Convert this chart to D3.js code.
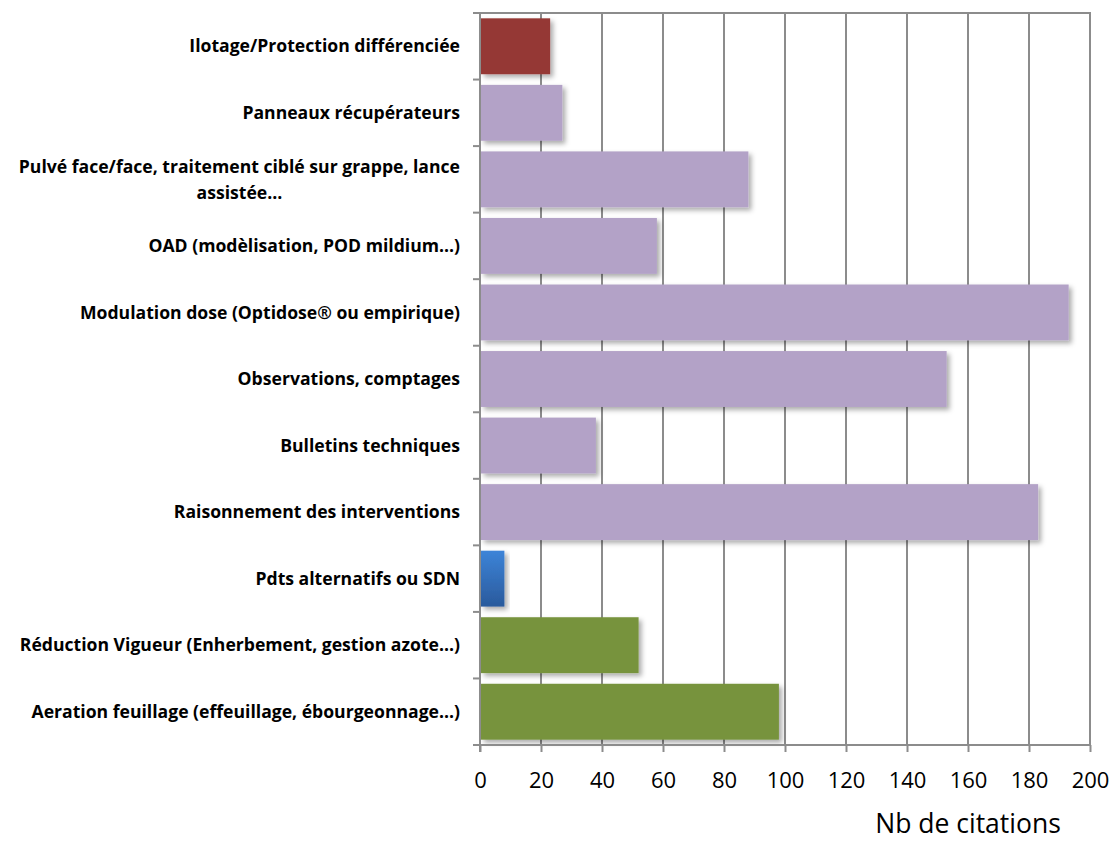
<!DOCTYPE html>
<html><head><meta charset="utf-8">
<script src="https://cdn.jsdelivr.net/npm/d3@7"></script>
<style>body{margin:0;background:#fff}</style>
</head><body>
<svg id="chart" width="1112" height="841"></svg>
<script>
const categories = [
  "Ilotage/Protection différenciée",
  "Panneaux récupérateurs",
  "Pulvé face/face, traitement ciblé sur grappe, lance|assistée…",
  "OAD (modèlisation, POD mildium…)",
  "Modulation dose (Optidose® ou empirique)",
  "Observations, comptages",
  "Bulletins techniques",
  "Raisonnement des interventions",
  "Pdts alternatifs ou SDN",
  "Réduction Vigueur (Enherbement, gestion azote…)",
  "Aeration feuillage (effeuillage, ébourgeonnage…)"
];
const values = [23, 27, 88, 58, 193, 153, 38, 183, 8, 52, 98];
const groups = ["red", "purple", "purple", "purple", "purple", "purple", "purple", "purple", "blue", "green", "green"];
const xTicks = [0, 20, 40, 60, 80, 100, 120, 140, 160, 180, 200];
const axisTitle = "Nb de citations";

(function(){
const colors = {red: "#953735", purple: "#B3A2C7", green: "#77933C", blue: "url(#blueGrad)"};

const svg = d3.select("#chart");
const defs = svg.append("defs");
const f = defs.append("filter").attr("id","shadow").attr("x","-10%").attr("y","-20%").attr("width","130%").attr("height","160%");
f.append("feDropShadow").attr("dx",3).attr("dy",3).attr("stdDeviation",2.5).attr("flood-color","#000").attr("flood-opacity",0.33);
const g = defs.append("linearGradient").attr("id","blueGrad").attr("x1",0).attr("y1",0).attr("x2",0).attr("y2",1);
g.append("stop").attr("offset","0%").attr("stop-color","#3D84D8");
g.append("stop").attr("offset","100%").attr("stop-color","#2A5A9C");

const pL = 480, pR = 1090, pT = 13, pB = 745;
const x = d3.scaleLinear().domain([0, 200]).range([pL, pR]);
const y = d3.scaleBand().domain(categories).range([pT, pB]).paddingInner(0.16).paddingOuter(0.08);
const step = y.step();

svg.append("g").selectAll("line").data(xTicks.filter(d => d > 0)).join("line")
  .attr("x1", d => x(d)).attr("x2", d => x(d)).attr("y1", pT).attr("y2", pB)
  .attr("stroke", "#8c8c8c").attr("stroke-width", 2);
svg.append("line").attr("x1", pL - 7).attr("x2", pR + 1).attr("y1", pT).attr("y2", pT)
  .attr("stroke", "#8c8c8c").attr("stroke-width", 2);

svg.append("g").selectAll("rect").data(categories).join("rect")
  .attr("x", x(0) + 1)
  .attr("y", d => y(d))
  .attr("width", (d, i) => x(values[i]) - x(0) - 1)
  .attr("height", y.bandwidth())
  .attr("fill", (d, i) => colors[groups[i]])
  .attr("filter", "url(#shadow)");

svg.append("line").attr("x1", pL).attr("x2", pL).attr("y1", pT).attr("y2", pB + 7)
  .attr("stroke", "#8c8c8c").attr("stroke-width", 2);
svg.append("g").selectAll("line").data(d3.range(categories.length + 1)).join("line")
  .attr("x1", pL - 7).attr("x2", pL).attr("y1", i => pT + i * step).attr("y2", i => pT + i * step)
  .attr("stroke", "#8c8c8c").attr("stroke-width", 2);

const xAxis = d3.axisBottom(x).tickValues(xTicks).tickSize(7).tickPadding(20).tickFormat(d3.format("d"));
const ax = svg.append("g").attr("transform", `translate(0,${pB})`).call(xAxis);
ax.select(".domain").attr("stroke", "#8c8c8c").attr("stroke-width", 2).attr("d", `M${pL-7},0H${pR+1}`);
ax.selectAll(".tick line").attr("stroke", "#8c8c8c").attr("stroke-width", 2);
ax.selectAll(".tick text").attr("font-family", "Open Sans, sans-serif").attr("font-size", 22).attr("fill", "#000");

const lab = svg.append("g").attr("font-family", "Open Sans, sans-serif").attr("font-weight", "bold").attr("font-size", 17.6).attr("fill", "#000");
categories.forEach((c, i) => {
  const cy = y(c) + y.bandwidth() / 2;
  const parts = c.split("|");
  if (parts.length === 1) {
    lab.append("text").attr("x", 460).attr("y", cy).attr("dy", "0.35em").attr("text-anchor", "end").text(c);
  } else {
    const t1 = lab.append("text").attr("y", cy - 13).attr("dy", "0.35em").attr("text-anchor", "middle").text(parts[0]);
    const w = t1.node().getComputedTextLength();
    t1.attr("x", 460 - w / 2);
    lab.append("text").attr("x", 460 - w / 2).attr("y", cy + 13).attr("dy", "0.35em").attr("text-anchor", "middle").text(parts[1]);
  }
});

svg.append("text").attr("x", 968).attr("y", 833).attr("text-anchor", "middle")
  .attr("font-family", "Open Sans, sans-serif").attr("font-size", 26.5).attr("fill", "#000").text(axisTitle);
})();
</script>
</body></html>
